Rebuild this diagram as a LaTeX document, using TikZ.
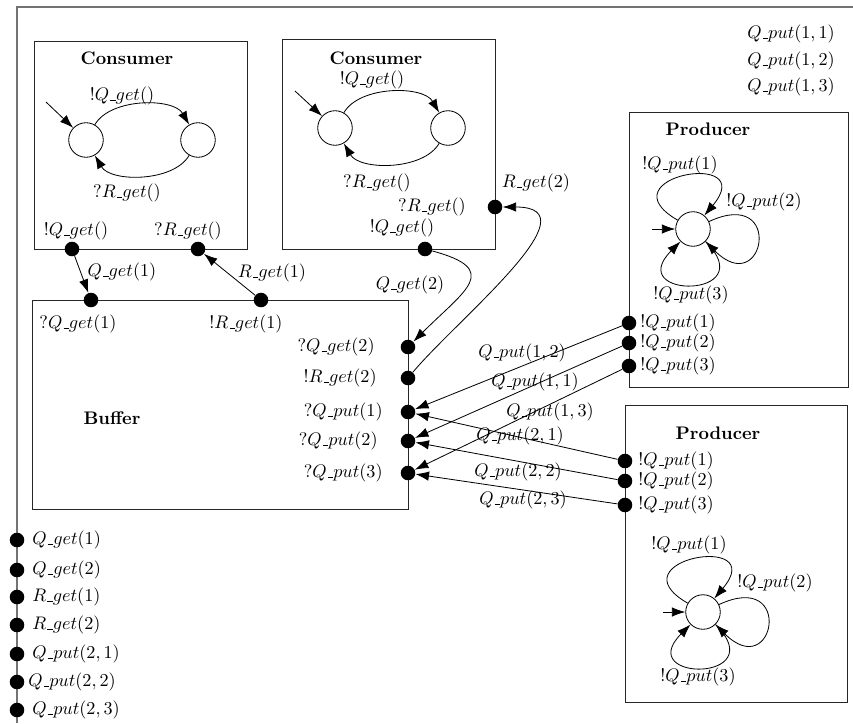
\documentclass[tikz,border=0pt]{standalone}
\usetikzlibrary{arrows.meta,fit}
% short low rule between the parts of a channel name
\newcommand{\usc}{\kern.06em\vbox{\hrule width.3em height0.4pt}}
\begin{document}
\begin{tikzpicture}[x=0.55pt,y=-0.55pt,
  >={Latex[length=7.4pt,width=5.2pt]},
  box/.style={draw=black!85, line width=0.5pt, inner sep=0pt},
  frameline/.style={draw=black!55, line width=0.9pt},
  state/.style={circle, draw, line width=0.45pt, minimum size=19pt, inner sep=0pt},
  port/.style={circle, fill, minimum size=8pt, inner sep=0pt},
  title/.style={font=\bfseries, inner sep=0pt},
  lbl/.style={inner sep=0pt},
  conn/.style={->, line width=0.45pt},
]
\useasboundingbox (0,0) rectangle (853,723);

% enclosing frame
\draw[frameline] (17,723) -- (17,7) -- (853,7);

% ---------------- Consumer 1 ----------------
\node[box, fit={(34,41) (247,249)}] (cons1) {};
\node[title] (cons1t) at (127,58) {Consumer};
\node[state] (c1a) at (86,140) {};
\node[state] (c1b) at (198,140) {};
\coordinate (c1i) at (46,102);
\draw[conn] (c1i) -- (c1a);
\draw[conn] (c1a) to[out=60,in=120,looseness=0.85] (c1b);
\draw[conn] (c1b) to[out=-120,in=-60,looseness=0.85] (c1a);
\node[lbl] (c1l1) at (122,96) {$!Q\usc get()$};
\node[lbl] (c1l2) at (127,193) {$?R\usc get()$};
\node[port] (c1q) at (72,249) {};
\node[port] (c1r) at (198,249) {};
\node[lbl] (c1ql) at (76,231) {$!Q\usc get()$};
\node[lbl] (c1rl) at (188,231) {$?R\usc get()$};

% ---------------- Consumer 2 ----------------
\node[box, fit={(282,39) (495,249)}] (cons2) {};
\node[title] (cons2t) at (376,58) {Consumer};
\node[state] (c2a) at (335,128) {};
\node[state] (c2b) at (448,128) {};
\coordinate (c2i) at (295,91);
\draw[conn] (c2i) -- (c2a);
\draw[conn] (c2a) to[out=60,in=120,looseness=0.85] (c2b);
\draw[conn] (c2b) to[out=-120,in=-60,looseness=0.85] (c2a);
\node[lbl] (c2l1) at (372,80) {$!Q\usc get()$};
\node[lbl] (c2l2) at (377,183) {$?R\usc get()$};
\node[port] (c2q) at (425,249) {};
\node[port] (c2r) at (495,207) {};
\node[lbl] (c2ql) at (402,228) {$!Q\usc get()$};
\node[lbl] (c2rl) at (432,207) {$?R\usc get()$};

% ---------------- Buffer ----------------
\node[box, fit={(32,300) (408,509)}] (buf) {};
\node[title] (buft) at (112,418) {Buffer};
\node[port] (bq1) at (91,300) {};
\node[port] (br1) at (261,300) {};
\node[lbl] (bq1l) at (78,324) {$?Q\usc get(1)$};
\node[lbl] (br1l) at (246,324) {$!R\usc get(1)$};
\node[port] (bq2) at (408,347) {};
\node[port] (br2) at (408,378) {};
\node[port] (bp1) at (408,412) {};
\node[port] (bp2) at (408,441) {};
\node[port] (bp3) at (408,473) {};
\node[lbl, anchor=east] (bq2l) at (375,347) {$?Q\usc get(2)$};
\node[lbl, anchor=east] (br2l) at (377,378) {$!R\usc get(2)$};
\node[lbl, anchor=east] (bp1l) at (383,412) {$?Q\usc put(1)$};
\node[lbl, anchor=east] (bp2l) at (378,441) {$?Q\usc put(2)$};
\node[lbl, anchor=east] (bp3l) at (383,473) {$?Q\usc put(3)$};

% ---------------- Producer 1 ----------------
\node[box, fit={(629,112) (848,387)}] (prod1) {};
\node[title] (prod1t) at (708,129) {Producer};
\node[state] (p1s) at (693,229) {};
\coordinate (p1i) at (652,229);
\draw[conn] (p1i) -- (p1s);
\draw[conn] (p1s) to[out=150,in=50,distance=48pt] (p1s);
\draw[conn] (p1s) to[out=25,in=-45,distance=46pt] (p1s);
\draw[conn] (p1s) to[out=-45,in=-135,distance=45pt] (p1s);
\node[lbl] (p1l1) at (680,165) {$!Q\usc put(1)$};
\node[lbl] (p1l2) at (764,202) {$!Q\usc put(2)$};
\node[lbl] (p1l3) at (691,295) {$!Q\usc put(3)$};
\node[port] (p1o1) at (629,323) {};
\node[port] (p1o2) at (629,343) {};
\node[port] (p1o3) at (629,366) {};
\node[lbl, anchor=west] (p1o1l) at (640,323) {$!Q\usc put(1)$};
\node[lbl, anchor=west] (p1o2l) at (640,343) {$!Q\usc put(2)$};
\node[lbl, anchor=west] (p1o3l) at (640,366) {$!Q\usc put(3)$};

% ---------------- Producer 2 ----------------
\node[box, fit={(625,405) (847,702)}] (prod2) {};
\node[title] (prod2t) at (718,433) {Producer};
\node[state] (p2s) at (703,612) {};
\coordinate (p2i) at (663,612);
\draw[conn] (p2i) -- (p2s);
\draw[conn] (p2s) to[out=150,in=50,distance=48pt] (p2s);
\draw[conn] (p2s) to[out=25,in=-45,distance=46pt] (p2s);
\draw[conn] (p2s) to[out=-45,in=-135,distance=45pt] (p2s);
\node[lbl] (p2l1) at (689,545) {$!Q\usc put(1)$};
\node[lbl] (p2l2) at (775,583) {$!Q\usc put(2)$};
\node[lbl] (p2l3) at (698,677) {$!Q\usc put(3)$};
\node[port] (p2o1) at (625,461) {};
\node[port] (p2o2) at (625,481) {};
\node[port] (p2o3) at (625,505) {};
\node[lbl, anchor=west] (p2o1l) at (638,461) {$!Q\usc put(1)$};
\node[lbl, anchor=west] (p2o2l) at (638,481) {$!Q\usc put(2)$};
\node[lbl, anchor=west] (p2o3l) at (638,505) {$!Q\usc put(3)$};

% ---------------- channels ----------------
\draw[conn] (c1q) -- (bq1);
\node[lbl] (ch1) at (122,272) {$Q\usc get(1)$};
\draw[conn] (br1) -- (c1r);
\node[lbl] (ch2) at (272,273) {$R\usc get(1)$};
\draw[conn] (c2q) to[out=-15,in=45,looseness=2] (bq2);
\node[lbl] (ch3) at (410,285) {$Q\usc get(2)$};
\draw[conn] (br2) to[out=50,in=0,out distance=38pt,in distance=52pt] (c2r);
\node[lbl] (ch4) at (536,183) {$R\usc get(2)$};

\draw[conn] (p1o1) -- (bp1);
\draw[conn] (p1o2) -- (bp2);
\draw[conn] (p1o3) -- (bp3);
\draw[conn] (p2o1) -- (bp1);
\draw[conn] (p2o2) -- (bp2);
\draw[conn] (p2o3) -- (bp3);
\node[lbl] (ch5) at (522,353) {$Q\usc put(1,2)$};
\node[lbl] (ch6) at (535,382) {$Q\usc put(1,1)$};
\node[lbl] (ch7) at (550,412) {$Q\usc put(1,3)$};
\node[lbl] (ch8) at (520,436) {$Q\usc put(2,1)$};
\node[lbl] (ch9) at (518,472) {$Q\usc put(2,2)$};
\node[lbl] (ch10) at (523,500) {$Q\usc put(2,3)$};

% ---------------- channel list, upper right ----------------
\node[lbl] (tr1) at (791,34) {$Q\usc put(1,1)$};
\node[lbl] (tr2) at (791,61) {$Q\usc put(1,2)$};
\node[lbl] (tr3) at (791,87) {$Q\usc put(1,3)$};

% ---------------- channel list on the frame ----------------
\node[port] (e1) at (17,540) {};
\node[port] (e2) at (17,570) {};
\node[port] (e3) at (17,597) {};
\node[port] (e4) at (17,625) {};
\node[port] (e5) at (17,654) {};
\node[port] (e6) at (17,682) {};
\node[port] (e7) at (17,710) {};
\node[lbl, anchor=west] (e1l) at (32,540) {$Q\usc get(1)$};
\node[lbl, anchor=west] (e2l) at (32,570) {$Q\usc get(2)$};
\node[lbl, anchor=west] (e3l) at (32,597) {$R\usc get(1)$};
\node[lbl, anchor=west] (e4l) at (32,625) {$R\usc get(2)$};
\node[lbl, anchor=west] (e5l) at (32,654) {$Q\usc put(2,1)$};
\node[lbl, anchor=west] (e6l) at (28,682) {$Q\usc put(2,2)$};
\node[lbl, anchor=west] (e7l) at (32,710) {$Q\usc put(2,3)$};
\end{tikzpicture}
\end{document}
